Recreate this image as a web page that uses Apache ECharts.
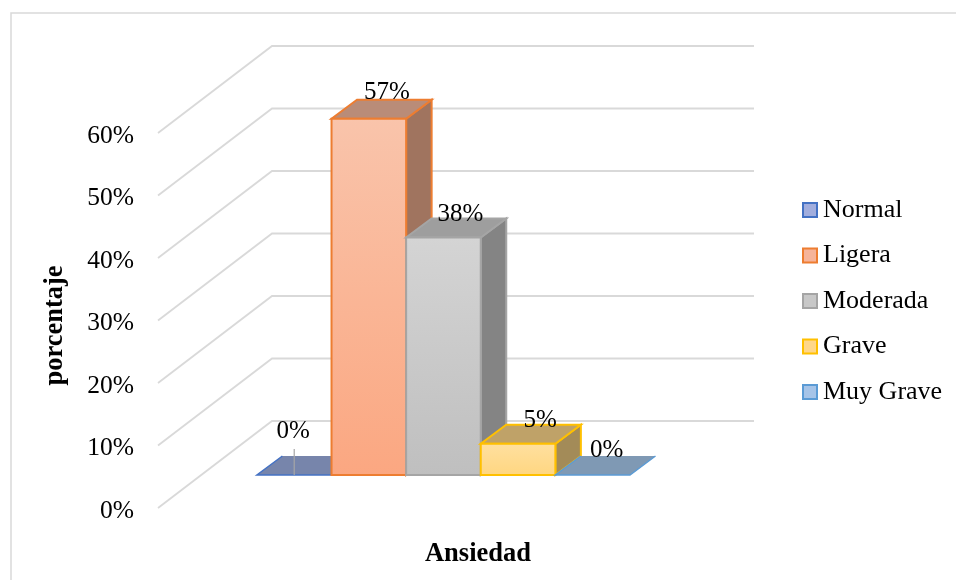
<!DOCTYPE html>
<html><head><meta charset="utf-8"><style>html,body{margin:0;padding:0;background:#fff}#c{width:956px;height:580px}</style>
<script src="https://cdn.jsdelivr.net/npm/echarts@6/dist/echarts.min.js"></script></head>
<body><div id="c"></div>
<script>
const seriesNames = ['Normal','Ligera','Moderada','Grave','Muy Grave'];
const seriesValues = [0,57,38,5,0];
const yTicks = [0,10,20,30,40,50,60];
const categoryName = 'Ansiedad';
const yAxisName = 'porcentaje';

const FONT = '"Liberation Serif","Times New Roman",serif';
const edge = ['#4472c4','#ed7d31','#a5a5a5','#ffc000','#5b9bd5'];
const frontTop = ['#a9b5dc','#f9c4ab','#d4d4d4','#ffe0a0','#a9c6e8'];
const frontBot = ['#8f9ed0','#fba781','#bfbfbf','#ffd680','#8fb6e0'];
const sideCol = ['#5d6f9c','#a0745f','#848484','#a38b58','#6b8cae'];
const topCol  = ['#7785ab','#b98c78','#9e9e9e','#bfa268','#7f99b4'];
const swatch  = ['#a2aede','#f6b49a','#c8c8c8','#ffd78a','#a6c4e8'];
const labelNudge = [[-1,-44],[18,-26],[17,-23],[22,-23],[14,-25]];

// 3-D projection of the Excel chart
const wallDX = 114, wallDY = -87;   // axis wall depth
const floorDX = 43, floorDY = -33;  // bars row position in the depth
const barDX = 25.5, barDY = -19;    // bar depth
const GRID = {left:158, top:133, width:482, height:375, outerBoundsMode:'none'};
const BAND = [0.116, 0.1548];   // first bar's start and each bar's width, fraction of band

function renderWalls(params, api){
  const cs = params.coordSys;
  const p = api.coord([0, api.value(1)]);
  const y = p[1], x0 = cs.x;
  return {type:'polyline', silent:true, shape:{points:[[x0,y],[x0+wallDX,y+wallDY],[x0+cs.width+wallDX,y+wallDY]]},
    style:{fill:null, stroke:'#d9d9d9', lineWidth:1.8}};
}
function makeBar(i){
  return function(params, api){
    const cs = params.coordSys;
    const base = api.coord([0, 0]);
    const val = api.value(1);
    const topP = api.coord([0, val]);
    const x1 = cs.x + cs.width*(BAND[0] + BAND[1]*i) + floorDX;
    const x2 = x1 + cs.width*BAND[1];
    const yb = base[1] + floorDY;
    const yt = topP[1] + floorDY;
    const st = {stroke:edge[i], lineWidth:2, lineJoin:'miter'};
    const children = [];
    if (val > 0) {
      children.push({type:'polygon', shape:{points:[[x2,yb],[x2+barDX,yb+barDY],[x2+barDX,yt+barDY],[x2,yt]]}, style:Object.assign({fill:sideCol[i]},st)});
      children.push({type:'polygon', shape:{points:[[x1,yt],[x2,yt],[x2+barDX,yt+barDY],[x1+barDX,yt+barDY]]}, style:Object.assign({fill:topCol[i]},st)});
      children.push({type:'rect', shape:{x:x1,y:yt,width:x2-x1,height:yb-yt}, style:Object.assign({fill:new echarts.graphic.LinearGradient(0,0,0,1,[{offset:0,color:frontTop[i]},{offset:1,color:frontBot[i]}])},st)});
    } else {
      children.push({type:'polygon', shape:{points:[[x1,yb],[x2,yb],[x2+barDX,yb+barDY],[x1+barDX,yb+barDY]]}, style:{fill:topCol[i], stroke:null}});
      children.push({type:'polyline', shape:{points:[[x1+barDX,yb+barDY],[x1,yb],[x2,yb],[x2+barDX,yb+barDY]]}, style:{fill:null, stroke:edge[i], lineWidth:1.5}});
    }
    if (i === 0) {
      children.push({type:'line', shape:{x1:(x1+x2)/2,y1:yb,x2:(x1+x2)/2,y2:yb-26}, style:{stroke:'#a6a6a6', lineWidth:1.2}});
    }
    children.push({type:'text', style:{text:val+'%', x:(x1+x2)/2+labelNudge[i][0], y:yt+labelNudge[i][1], textAlign:'center', textVerticalAlign:'middle', fill:'#000', font:'25px '+FONT}});
    return {type:'group', children};
  };
}

const chart = echarts.init(document.getElementById('c'), null, {renderer:'canvas'});
const series = [{
  type:'custom', name:'_walls', silent:true, z:1,
  renderItem:renderWalls, data:yTicks.map(t=>[0,t]), encode:{x:0,y:1}
}].concat(seriesNames.map((n,i)=>({
  type:'custom', name:n, z:2+i, clip:false,
  renderItem:makeBar(i),
  itemStyle:{color:swatch[i], borderColor:edge[i], borderWidth:2},
  data:[[0,seriesValues[i]]], encode:{x:0,y:1}
})));

chart.setOption({
  animation:false,
  backgroundColor:'#fff',
  graphic:[{type:'rect', z:-1, shape:{x:11,y:13,width:960,height:600}, style:{fill:'none',stroke:'#d9d9d9',lineWidth:1.5}, silent:true}],
  legend:{
    orient:'vertical', left:802, top:197, padding:0, itemWidth:14, itemHeight:14, itemGap:19.5, icon:'rect',
    data:seriesNames.map((n,i)=>({name:n, icon:'rect', itemStyle:{color:swatch[i],borderColor:edge[i],borderWidth:2}})),
    selectedMode:false,
    textStyle:{fontFamily:FONT,fontSize:26,color:'#000',padding:[0,0,0,1]}
  },
  grid:GRID,
  xAxis:{type:'category', data:[categoryName], show:true,
    axisLine:{show:false}, axisTick:{show:false}, axisLabel:{show:false}, splitLine:{show:false},
    name:categoryName, nameLocation:'middle', nameGap:33,
    nameTextStyle:{fontFamily:FONT,fontSize:26.5,fontWeight:'bold',color:'#000',padding:[0,0,0,158]}
  },
  yAxis:{type:'value', min:0, max:60, interval:10,
    axisLine:{show:false}, axisTick:{show:false}, splitLine:{show:false},
    axisLabel:{formatter:'{value}%', fontFamily:FONT, fontSize:25.5, color:'#000', margin:24, verticalAlign:'top', lineHeight:6},
    name:yAxisName, nameLocation:'middle', nameRotate:90, nameGap:89,
    nameTextStyle:{fontFamily:FONT,fontSize:26.5,fontWeight:'bold',color:'#000',padding:[0,10,0,0]}
  },
  series
});
</script></body></html>
